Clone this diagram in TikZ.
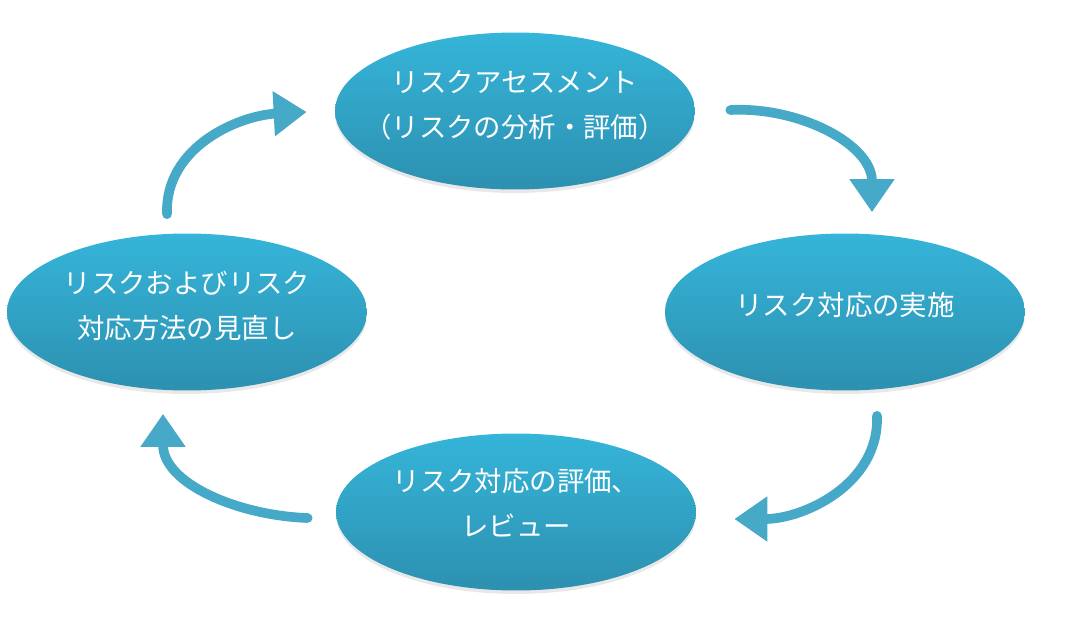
\documentclass[tikz,border=0pt]{standalone}
\usepackage{fontspec}
\newfontfamily\jpfont{Noto Sans CJK JP}
\usetikzlibrary{shapes.geometric,arrows.meta,calc,shadows}

\definecolor{cyantop}{HTML}{35B5D9}
\definecolor{cyanbot}{HTML}{2D90B0}
\definecolor{chalk}{HTML}{47A9C8}

\tikzset{
  cyc/.style={ellipse, minimum width=7.2cm, minimum height=3.14cm, inner sep=0pt,
    top color=cyantop, bottom color=cyanbot, draw=none,
    drop shadow={opacity=0.18, shadow xshift=0pt, shadow yshift=-2pt}},
  cyctext/.style={text=white, align=center, yshift=0.12cm,
    font=\jpfont\fontsize{15.6pt}{25.6pt}\selectfont},
  flow/.style={draw=chalk, line width=5.5pt, line cap=round,
    -{Triangle[length=0.66cm, width=0.86cm]}}
}

\begin{document}
\begin{tikzpicture}[x=0.02cm, y=-0.02cm]
\useasboundingbox (0,0) rectangle (1066,622);

\node[cyc, label={[cyctext]center:リスクアセスメント\\（リスクの分析・評価）}] (asmt) at (515,111) {};
\node[cyc, label={[cyctext, yshift=0.02cm]center:リスク対応の実施}] (impl) at (845,312) {};
\node[cyc, label={[cyctext, yshift=0.06cm]center:リスク対応の評価、\\レビュー}] (rev) at (516,512) {};
\node[cyc, label={[cyctext]center:リスクおよびリスク\\対応方法の見直し}] (revise) at (187,312) {};

\draw[flow] ($(asmt.east)+(35,-1)$) to[out=3, in=90] ($(impl.north)+(27,-21)$);
\draw[flow] ($(impl.south)+(32,25)$) to[out=-88, in=0] ($(rev.east)+(38,7)$);
\draw[flow] ($(rev.west)+(-28,6)$) to[out=178, in=-90] ($(revise.south)+(-24,23)$);
\draw[flow] ($(revise.north)+(-20,-19)$) to[out=92, in=183] ($(asmt.west)+(-28,1)$);
\end{tikzpicture}
\end{document}
